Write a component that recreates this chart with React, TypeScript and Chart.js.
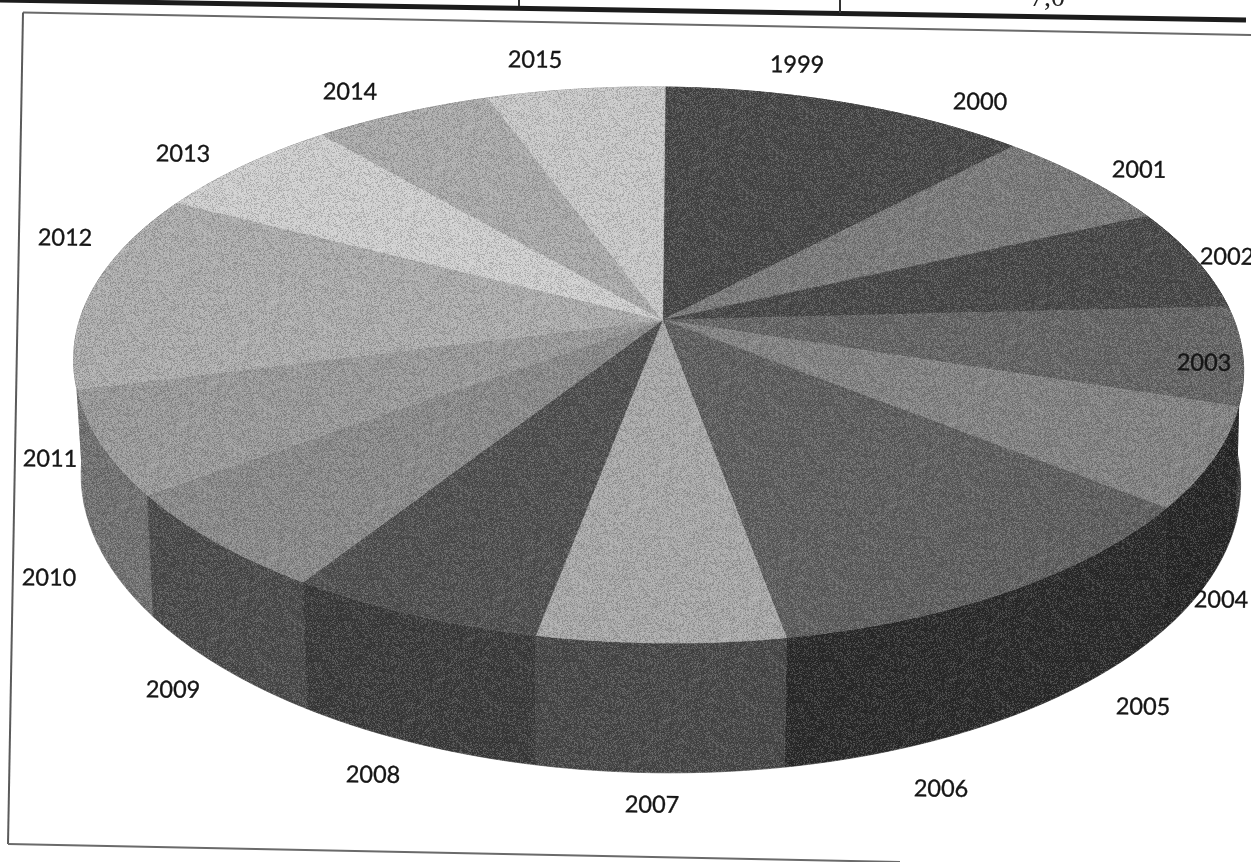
import React, { useEffect, useRef } from "react";
import { Chart, registerables } from "chart.js";

Chart.register(...registerables);

const years = ["1999","2000","2001","2002","2003","2004","2005","2006","2007","2008","2009","2010","2011","2012","2013","2014","2015"];
const shares = [21.4,21.4,21.6,21.35,20.65,21.0,20.9,20.95,21.05,21.7,20.95,21.45,20.9,20.9,22.5,20.7,20.6];
const topShades = ["#474747","#474747","#7a7a7a","#484848","#656565","#838383","#5f5f5f","#5f5f5f","#a9a9a9","#505050","#8a8a8a","#9a9a9a","#adadad","#adadad","#cfcfcf","#ababab","#c9c9c9"];
const sideShades = ["#333333","#333333","#444444","#2f2f2f","#3c3c3c","#262626","#2a2a2a","#2a2a2a","#484848","#3b3b3b","#4b4b4b","#727272","#727272","#727272","#808080","#707070","#808080"];

// Where each year's label sits on the page, in the order of `years`.
const labelX = [797,980,1139,1227,1204,1221,1143,941,652,373,173,49,50,65,183,350,535];
const labelY = [65,102,170,257,363,600,707,789,805,775,690,578,459,238,154,92,60];

// Projection of the pie's disc onto the page.
const AX = 662.6, AY = 320, K = 0.162, RY = 270.7, RX = 577.3, RIM_SHIFT = 3.5;
const TILT = 0.65 * Math.PI / 180;
const COS = Math.cos(TILT), SIN = Math.sin(TILT);

function project(a: number, lower: boolean): [number, number] {
  const u = Math.cos(a), v = Math.sin(a);
  const w = 1 - K * v;
  let dx = RX * u / w - RIM_SHIFT * Math.abs(u), dy = RY * v / w;
  if (lower) { dx *= dx > 0 ? 0.997 : 0.985; dy = dy * 1.055 + 112; }
  return [AX + dx * COS - dy * SIN, AY + dx * SIN + dy * COS];
}

function rimPoints(s: number, e: number, lower: boolean) {
  const n = 40, out: [number, number][] = [];
  for (let i = 0; i <= n; i++) out.push(project(s + (e - s) * i / n, lower));
  return out;
}

function grainTile() {
  const c = document.createElement("canvas");
  c.width = c.height = 256;
  const g = c.getContext("2d")!;
  const img = g.createImageData(256, 256);
  let h = 12345;
  for (let i = 0; i < img.data.length; i += 4) {
    h = (h * 1103515245 + 12345) & 0x7fffffff;
    const r = (h >> 12) & 255;
    const tone = r < 128 ? 0 : 255;
    img.data[i] = img.data[i + 1] = img.data[i + 2] = tone;
    img.data[i + 3] = ((h >> 20) & 47);
  }
  g.putImageData(img, 0, 0);
  return c;
}

const pie3d = {
  id: "pie3d",
  beforeDatasetsDraw(chart: any) {
    const ctx: CanvasRenderingContext2D = chart.ctx;
    const arcs: any[] = chart.getDatasetMeta(0).data;
    const order = arcs.map((_, i) => i).sort((a, b) =>
      Math.sin((arcs[a].startAngle + arcs[a].endAngle) / 2) - Math.sin((arcs[b].startAngle + arcs[b].endAngle) / 2));
    ctx.save();
    ctx.lineWidth = 0.7;
    ctx.lineJoin = "round";
    for (const i of order) {
      const a = arcs[i];
      const up = rimPoints(a.startAngle, a.endAngle, false);
      const lo = rimPoints(a.startAngle, a.endAngle, true).reverse();
      ctx.beginPath();
      [...up, ...lo].forEach(([x, y], j) => (j ? ctx.lineTo(x, y) : ctx.moveTo(x, y)));
      ctx.closePath();
      ctx.fillStyle = ctx.strokeStyle = sideShades[i];
      ctx.fill();
      ctx.stroke();
    }
    arcs.forEach((a, i) => {
      ctx.beginPath();
      ctx.moveTo(AX, AY);
      rimPoints(a.startAngle, a.endAngle, false).forEach(([x, y]) => ctx.lineTo(x, y));
      ctx.closePath();
      ctx.fillStyle = ctx.strokeStyle = topShades[i];
      ctx.fill();
      ctx.stroke();
    });
    ctx.globalCompositeOperation = "source-atop";
    ctx.fillStyle = ctx.createPattern(grainTile(), "repeat")!;
    ctx.fillRect(0, 0, chart.width, chart.height);
    ctx.restore();
    return false;
  },
  afterDraw(chart: any) {
    const ctx: CanvasRenderingContext2D = chart.ctx;
    ctx.save();
    // scanned frame and the edge of the table above it
    const line = (x1: number, y1: number, x2: number, y2: number, w: number, col: string) => {
      ctx.beginPath(); ctx.moveTo(x1, y1); ctx.lineTo(x2, y2);
      ctx.lineWidth = w; ctx.strokeStyle = col; ctx.stroke();
    };
    line(0, 0, 1246, 20, 5, "#1c1c1c");
    line(519, 0, 519, 6, 2, "#333");
    line(840, 0, 840, 13, 2, "#333");
    line(23, 12.5, 1251, 35, 2, "#6a6a6a");
    line(23, 12.5, 8, 844, 2, "#5a5a5a");
    line(8, 844, 900, 862, 2, "#6a6a6a");
    ctx.fillStyle = "#222";
    ctx.textAlign = "left";
    ctx.textBaseline = "alphabetic";
    ctx.font = "28px 'Liberation Serif'";
    ctx.fillText("7,0", 1030, 6);
    ctx.font = "23.5px Lato";
    ctx.textAlign = "center";
    ctx.textBaseline = "middle";
    ctx.fillStyle = ctx.strokeStyle = "#161616";
    ctx.lineWidth = 0.35;
    years.forEach((t, i) => {
      ctx.save();
      ctx.translate(labelX[i], labelY[i]);
      ctx.rotate(TILT);
      ctx.fillText(t, 0, 0);
      ctx.strokeText(t, 0, 0);
      ctx.restore();
    });
    ctx.restore();
  },
};

export default function App() {
  const ref = useRef<HTMLCanvasElement>(null);
  useEffect(() => {
    const chart = new Chart(ref.current!, {
      type: "pie",
      data: {
        labels: years,
        datasets: [{ data: shares, backgroundColor: topShades, borderWidth: 0 }],
      },
      options: {
        animation: false,
        responsive: false,
        devicePixelRatio: 1,
        plugins: { legend: { display: false }, tooltip: { enabled: false } },
      },
      plugins: [pie3d],
    } as any);
    return () => chart.destroy();
  }, []);
  return (
    <div style={{ position: "fixed", left: 0, top: 0, width: 1251, height: 862, background: "#fff", overflow: "hidden" }}>
      <canvas ref={ref} width={1251} height={862} style={{ display: "block", width: 1251, height: 862 }} />
    </div>
  );
}
